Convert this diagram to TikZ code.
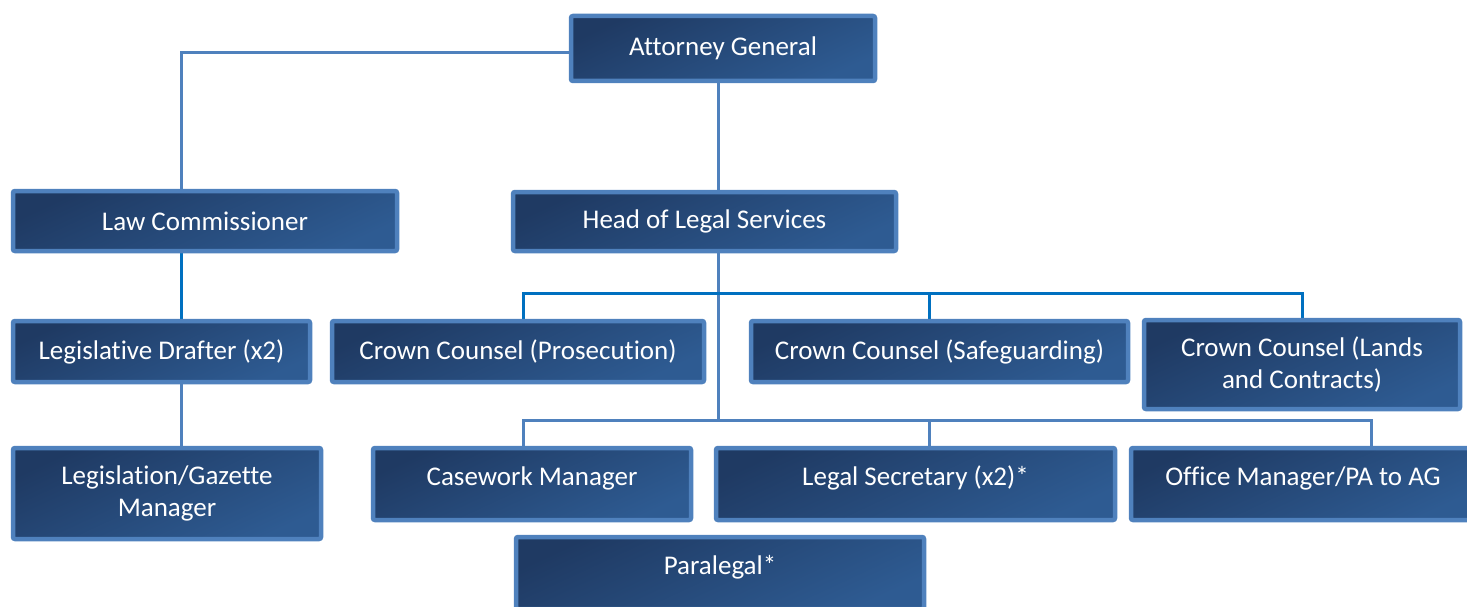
\documentclass[tikz,border=0pt]{standalone}
\usepackage{fontspec}
\setmainfont{Carlito}[Ligatures=NoCommon]
\usetikzlibrary{backgrounds}

\definecolor{boxdark}{HTML}{1F3A63}
\definecolor{boxlight}{HTML}{2E5B92}
\definecolor{boxrim}{HTML}{4F81BD}
\definecolor{linkblue}{HTML}{0070C0}

\tikzset{
    post/.style={draw=boxrim, line width=4.5pt, rounded corners=2pt,
        top color=boxdark, bottom color=boxlight, shading angle=25,
        text=white, font=\fontsize{27}{32}\selectfont, align=center, inner sep=0pt},
    high/.style={text height=18pt, text depth=15pt},
    link/.style={draw=boxrim, line width=3pt},
    linkb/.style={draw=linkblue, line width=3pt}
}

\begin{document}
\begin{tikzpicture}[x=1pt, y=-1pt]
    \clip (0,0) rectangle (1467,607);
    % top
    \node[post, minimum width=304pt, minimum height=65pt] (ag) at (723,48.5) {Attorney General};
    % second row
    \node[post, minimum width=384pt, minimum height=60pt] (lawc) at (205,221) {Law Commissioner};
    \node[post, minimum width=383pt, minimum height=59pt] (head) at (704.5,221.5) {Head of Legal Services};
    % third row
    \node[post, minimum width=297pt, minimum height=61pt] (draft) at (161.5,351.5) {Legislative Drafter (x2)};
    \node[post, minimum width=372pt, minimum height=61pt] (pros) at (518,351.5) {Crown Counsel (Prosecution)};
    \node[post, minimum width=377pt, minimum height=61pt] (safe) at (939.5,351.5) {Crown Counsel (Safeguarding)};
    \node[post, minimum width=316pt, minimum height=89pt] (lands) at (1302,364.5) {Crown Counsel (Lands\\and Contracts)};
    % fourth row
    \node[post, minimum width=308pt, minimum height=91pt] (gaz) at (167,493.5) {Legislation/Gazette\\Manager};
    \node[post, high, minimum width=318pt, minimum height=72pt] (case) at (532,484) {Casework Manager};
    \node[post, high, minimum width=399pt, minimum height=72pt] (lsec) at (915.5,484) {Legal Secretary (x2)*};
    \node[post, high, minimum width=344pt, minimum height=72pt] (office) at (1303,484) {Office Manager/PA to AG};
    \node[post, high, minimum width=408pt, minimum height=72pt] (para) at (720,573) {Paralegal*};

    \coordinate (colL) at (181,0);
    \coordinate (busA) at (718,293);
    \coordinate (busB) at (718,420);

    \begin{scope}[on background layer]
        \draw[link] ([yshift=-4.5pt]ag.west) -| (lawc.north -| colL);
        \draw[linkb] (lawc.south -| colL) -- (draft.north -| colL);
        \draw[link] (draft.south -| colL) -- (gaz.north -| colL);
        \draw[link] (ag.south -| busA) -- (head.north -| busA);
        \draw[link] (head.south -| busA) -- (busB);
        \draw[linkb] ([xshift=5pt]pros.north) |- (busA) -| (lands.north);
        \draw[linkb] ([xshift=-10.5pt]safe.north) -- ([xshift=-10.5pt]safe.north |- busA);
        \draw[link] ([xshift=-9pt]case.north) |- (busB) -| ([xshift=68pt]office.north);
        \draw[link] ([xshift=13.5pt]lsec.north) -- ([xshift=13.5pt]lsec.north |- busB);
    \end{scope}
\end{tikzpicture}
\end{document}
